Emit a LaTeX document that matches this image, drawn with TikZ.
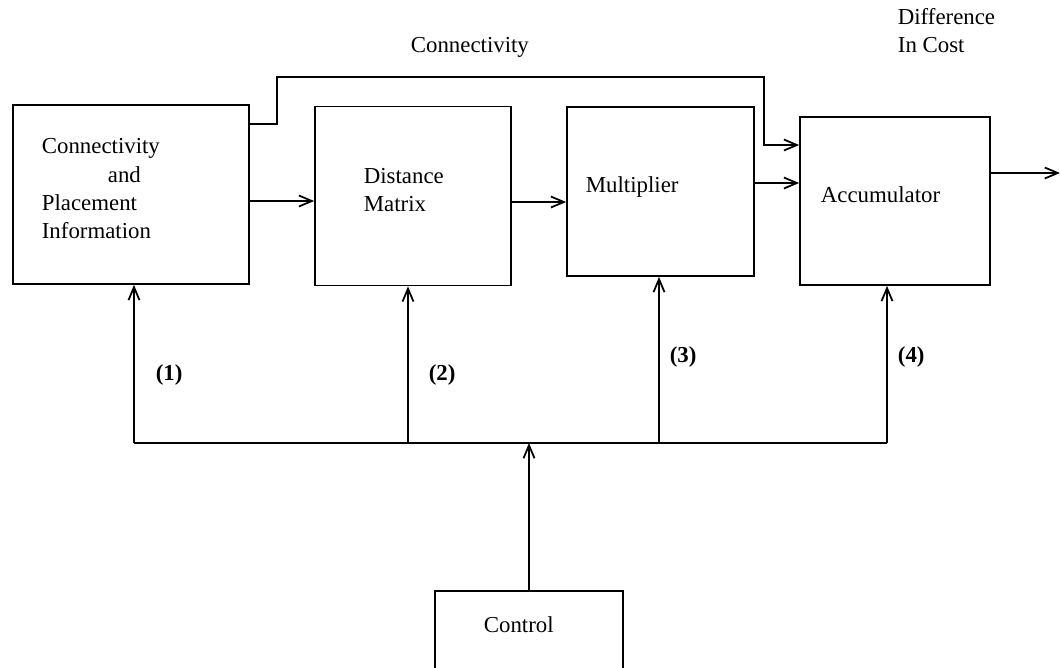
\documentclass[tikz,border=0pt]{standalone}
\usepackage{fontspec}
\setmainfont{Liberation Serif}
\usetikzlibrary{arrows.meta}
\begin{document}
\begin{tikzpicture}[x=0.02cm,y=-0.02cm,
  line width=1pt,
  box/.style={draw, line width=1pt, inner sep=0pt},
  lbl/.style={anchor=base west, inner sep=0pt, font=\fontsize{13pt}{16pt}\selectfont},
  num/.style={lbl, font=\fontsize{13pt}{16pt}\selectfont\bfseries},
  arr/.style={-{Straight Barb[length=2.6mm,width=2.2mm,line width=1pt]}}]
\useasboundingbox (0,0) rectangle (1060,667);
% boxes
\node[box, minimum width=4.72cm, minimum height=3.58cm] (b1) at (131,194.5) {};
\node[box, minimum width=3.92cm, minimum height=3.58cm] (b2) at (413,196) {};
\node[box, minimum width=3.74cm, minimum height=3.38cm] (b3) at (660.5,191.5) {};
\node[box, minimum width=3.80cm, minimum height=3.36cm] (b4) at (895,201) {};
% control box (cut off at the bottom)
\coordinate (cbl) at (435,668);
\coordinate (ctl) at (435,591);
\coordinate (ctr) at (623,591);
\coordinate (cbr) at (623,668);
\coordinate (ctop) at (529,591);
\draw (cbl) -- (ctl) -- (ctr) -- (cbr);
% texts
\node[lbl] (t1a) at (41,153) {Connectivity};
\node[lbl] (t1b) at (107,182) {and};
\node[lbl] (t1c) at (41,210) {Placement};
\node[lbl] (t1d) at (41,238) {Information};
\node[lbl] (t2a) at (363,183) {Distance};
\node[lbl] (t2b) at (363,211) {Matrix};
\node[lbl] (t3) at (585,192) {Multiplier};
\node[lbl] (t4) at (820,202) {Accumulator};
\node[lbl] (tc) at (483,632) {Control};
\node[lbl] (tconn) at (410,52) {Connectivity};
\node[lbl] (td1) at (897,24) {Difference};
\node[lbl] (td2) at (897,52) {In Cost};
\node[num] (n1) at (155,380) {(1)};
\node[num] (n2) at (428,380) {(2)};
\node[num] (n3) at (669,362) {(3)};
\node[num] (n4) at (897,362) {(4)};
% data path
\draw[arr] (b1.east |- 0,201) -- (b2.west |- 0,201);
\draw[arr] (b2.east |- 0,202) -- (b3.west |- 0,202);
\draw[arr] (b3.east |- 0,183) -- (b4.west |- 0,183);
\coordinate (out) at (1060,173);
\draw[arr] (b4.east |- 0,173) -- (out);
\coordinate (k1) at (277,77);
\coordinate (k2) at (764,77);
\draw[arr] (b1.east |- 0,124) -- (k1 |- 0,124) -- (k1) -- (k2) -- (k2 |- 0,145) -- (b4.west |- 0,145);
% control bus
\coordinate (busL) at (134,443);
\coordinate (busR) at (887,443);
\coordinate (busC) at (529,443);
\draw (busL) -- (busR);
\draw[arr] (ctop) -- (busC);
\draw[arr] (busL) -- (b1.south -| busL);
\draw[arr] (408,443) -- (b2.south -| 408,0);
\draw[arr] (659,443) -- (b3.south -| 659,0);
\draw[arr] (busR) -- (b4.south -| busR);
\end{tikzpicture}
\end{document}
